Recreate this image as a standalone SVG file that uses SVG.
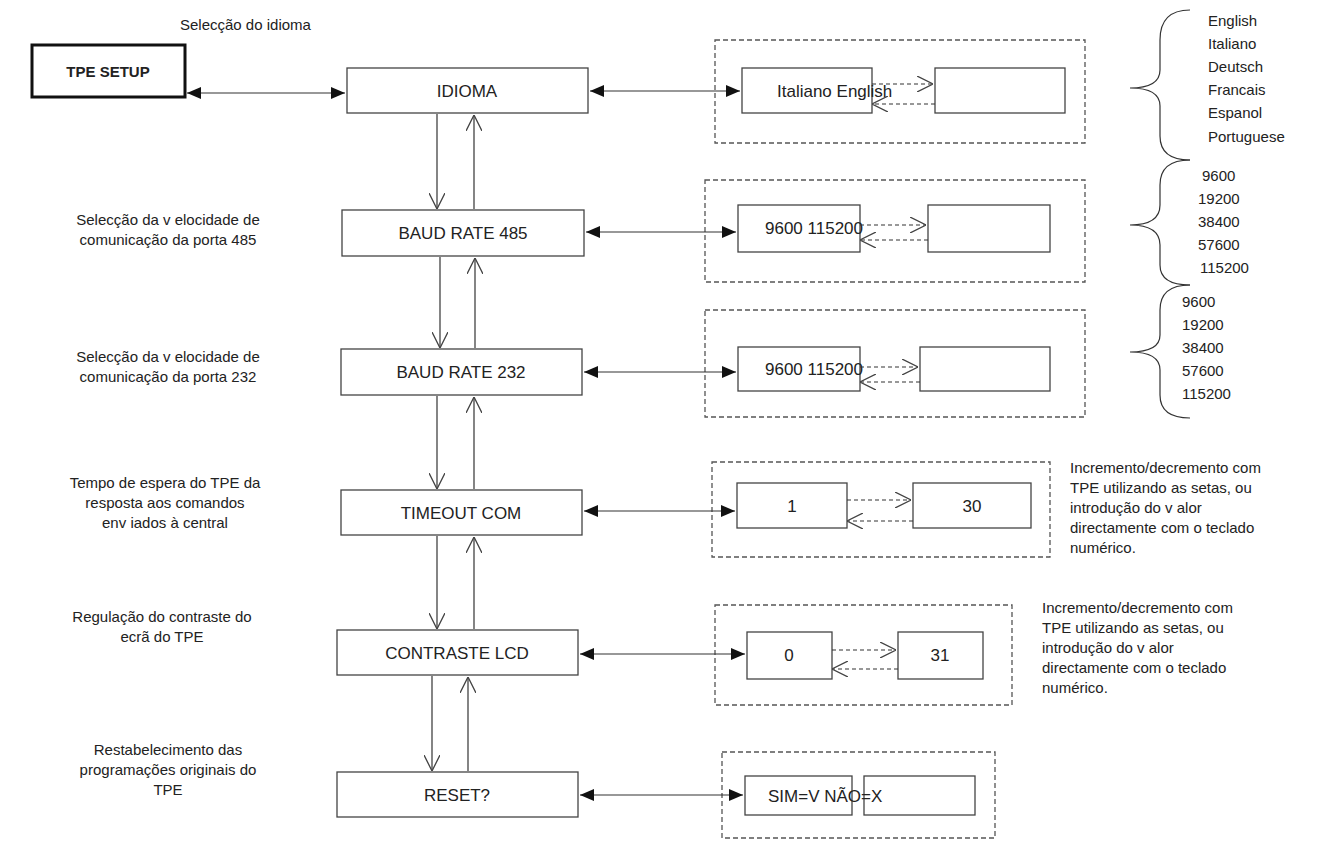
<svg xmlns="http://www.w3.org/2000/svg" width="1318" height="842" viewBox="0 0 1318 842">
<style>
text{font-family:"Liberation Sans",Arial,sans-serif;font-size:15px;fill:#222}
.n{font-size:17px}
.b{fill:#fff;stroke:#444;stroke-width:1.3}
.d{fill:none;stroke:#555;stroke-width:1.3;stroke-dasharray:5,3}
.l{fill:none;stroke:#333;stroke-width:1.2}
.m{text-anchor:middle}
</style>
<defs>
<marker id="f" viewBox="0 0 14 12" refX="14" refY="6" markerWidth="14" markerHeight="12" markerUnits="userSpaceOnUse" orient="auto-start-reverse"><path d="M0,0L14,6L0,12z" fill="#111"/></marker>
<marker id="o" viewBox="0 0 12 12" refX="12" refY="6" markerWidth="16" markerHeight="16" markerUnits="userSpaceOnUse" orient="auto"><path d="M0,0L12,6L0,12" fill="none" stroke="#444" stroke-width="1"/></marker>
</defs>
<rect width="1318" height="842" fill="#fff"/>
<g id="tpe"><rect x="32" y="45" width="153" height="52" fill="#fff" stroke="#111" stroke-width="3"/><text x="108" y="77" class="m" font-weight="bold">TPE SETUP</text></g>
<text x="180" y="30">Selecção do idioma</text>
<g id="idioma"><rect class="b" x="347" y="68" width="241" height="45"/><text class="m n" x="467" y="97">IDIOMA</text></g>
<g id="b485"><rect class="b" x="342" y="210" width="242" height="46"/><text class="m n" x="463" y="239">BAUD RATE 485</text></g>
<g id="b232"><rect class="b" x="341" y="349" width="241" height="46"/><text class="m n" x="461" y="378">BAUD RATE 232</text></g>
<g id="timeout"><rect class="b" x="341" y="490" width="241" height="45"/><text class="m n" x="461" y="519">TIMEOUT COM</text></g>
<g id="contraste"><rect class="b" x="337" y="630" width="241" height="45"/><text class="m n" x="457" y="659">CONTRASTE LCD</text></g>
<g id="reset"><rect class="b" x="337" y="772" width="241" height="45"/><text class="m n" x="457" y="801">RESET?</text></g>
<g id="labels">
<text class="m" x="168" y="225">Selecção da v elocidade de</text><text class="m" x="168" y="245">comunicação da porta 485</text>
<text class="m" x="168" y="362">Selecção da v elocidade de</text><text class="m" x="168" y="382">comunicação da porta 232</text>
<text class="m" x="165" y="488">Tempo de espera do TPE da</text><text class="m" x="165" y="508">resposta aos comandos</text><text class="m" x="165" y="528">env iados à central</text>
<text class="m" x="162" y="622">Regulação do contraste do</text><text class="m" x="162" y="642">ecrã do TPE</text>
<text class="m" x="168" y="755">Restabelecimento das</text><text class="m" x="168" y="775">programações originais do</text><text class="m" x="168" y="795">TPE</text>
</g>
<g id="sub1"><rect class="d" x="715" y="40" width="370" height="103"/><rect class="b" x="742" y="68" width="130" height="45"/><rect class="b" x="935" y="68" width="130" height="45"/><text class="n" x="777" y="97">Italiano English</text></g>
<g id="sub2"><rect class="d" x="705" y="180" width="380" height="102"/><rect class="b" x="738" y="205" width="122" height="47"/><rect class="b" x="928" y="205" width="122" height="47"/><text class="n" x="765" y="234">9600 115200</text></g>
<g id="sub3"><rect class="d" x="705" y="310" width="380" height="107"/><rect class="b" x="738" y="347" width="122" height="44"/><rect class="b" x="920" y="347" width="130" height="44"/><text class="n" x="765" y="375">9600 115200</text></g>
<g id="sub4"><rect class="d" x="712" y="462" width="338" height="95"/><rect class="b" x="737" y="483" width="110" height="45"/><rect class="b" x="913" y="483" width="118" height="45"/><text class="m n" x="792" y="512">1</text><text class="m n" x="972" y="512">30</text></g>
<g id="sub5"><rect class="d" x="715" y="605" width="297" height="100"/><rect class="b" x="747" y="632" width="85" height="47"/><rect class="b" x="898" y="632" width="85" height="47"/><text class="m n" x="789" y="661">0</text><text class="m n" x="940" y="661">31</text></g>
<g id="sub6"><rect class="d" x="722" y="752" width="273" height="86" stroke-width="2"/><rect class="b" x="745" y="776" width="107" height="39"/><rect class="b" x="864" y="776" width="111" height="39"/><text class="n" x="768" y="802">SIM=V NÃO=X</text></g>
<g id="connectors">
<line class="l" x1="187" y1="93" x2="345" y2="93" marker-start="url(#f)" marker-end="url(#f)"/>
<line class="l" x1="590" y1="91" x2="740" y2="91" marker-start="url(#f)" marker-end="url(#f)"/>
<line class="l" x1="586" y1="232" x2="736" y2="232" marker-start="url(#f)" marker-end="url(#f)"/>
<line class="l" x1="584" y1="372" x2="736" y2="372" marker-start="url(#f)" marker-end="url(#f)"/>
<line class="l" x1="584" y1="511" x2="735" y2="511" marker-start="url(#f)" marker-end="url(#f)"/>
<line class="l" x1="580" y1="654" x2="745" y2="654" marker-start="url(#f)" marker-end="url(#f)"/>
<line class="l" x1="580" y1="795" x2="743" y2="795" marker-start="url(#f)" marker-end="url(#f)"/>
<g stroke-dasharray="4,3">
<line class="l" x1="872" y1="84" x2="933" y2="84" marker-end="url(#o)"/><line class="l" x1="935" y1="104" x2="872" y2="104" marker-end="url(#o)"/>
<line class="l" x1="860" y1="225" x2="926" y2="225" marker-end="url(#o)"/><line class="l" x1="928" y1="240" x2="860" y2="240" marker-end="url(#o)"/>
<line class="l" x1="860" y1="367" x2="918" y2="367" marker-end="url(#o)"/><line class="l" x1="920" y1="382" x2="860" y2="382" marker-end="url(#o)"/>
<line class="l" x1="847" y1="500" x2="911" y2="500" marker-end="url(#o)"/><line class="l" x1="913" y1="521" x2="847" y2="521" marker-end="url(#o)"/>
<line class="l" x1="832" y1="650" x2="896" y2="650" marker-end="url(#o)" stroke-width="2"/><line class="l" x1="898" y1="669" x2="832" y2="669" marker-end="url(#o)"/>
</g>
<line class="l" x1="437" y1="114" x2="437" y2="209" marker-end="url(#o)"/><line class="l" x1="474" y1="209" x2="474" y2="115" marker-end="url(#o)"/>
<line class="l" x1="440" y1="257" x2="440" y2="348" marker-end="url(#o)"/><line class="l" x1="475" y1="348" x2="475" y2="258" marker-end="url(#o)"/>
<line class="l" x1="437" y1="396" x2="437" y2="489" marker-end="url(#o)"/><line class="l" x1="474" y1="489" x2="474" y2="397" marker-end="url(#o)"/>
<line class="l" x1="437" y1="536" x2="437" y2="629" marker-end="url(#o)"/><line class="l" x1="474" y1="629" x2="474" y2="537" marker-end="url(#o)"/>
<line class="l" x1="432" y1="676" x2="432" y2="771" marker-end="url(#o)"/><line class="l" x1="468" y1="771" x2="468" y2="677" marker-end="url(#o)"/>
</g>
<g id="braces" fill="none" stroke="#333" stroke-width="1.2">
<path d="M1190,10 Q1160,10 1160,40 L1160,70 Q1160,88 1130,88 Q1160,88 1160,106 L1160,136 Q1160,160 1190,160"/>
<path d="M1190,160 Q1160,160 1160,185 L1160,205 Q1160,225 1130,225 Q1160,225 1160,245 L1160,265 Q1160,285 1190,285"/>
<path d="M1190,285 Q1160,285 1160,310 L1160,335 Q1160,352 1130,352 Q1160,352 1160,370 L1160,395 Q1160,418 1190,418"/>
</g>
<g id="options">
<text x="1208" y="26">English</text><text x="1208" y="49">Italiano</text><text x="1208" y="72">Deutsch</text><text x="1208" y="95">Francais</text><text x="1208" y="118">Espanol</text><text x="1208" y="142">Portuguese</text>
<text x="1202" y="181">9600</text><text x="1198" y="204">19200</text><text x="1198" y="227">38400</text><text x="1198" y="250">57600</text><text x="1200" y="273">115200</text>
<text x="1182" y="307">9600</text><text x="1182" y="330">19200</text><text x="1182" y="353">38400</text><text x="1182" y="376">57600</text><text x="1182" y="399">115200</text>
<text x="1070" y="473" font-size="14">Incremento/decremento com</text><text x="1070" y="493" font-size="14">TPE utilizando as setas, ou</text><text x="1070" y="513" font-size="14">introdução do v alor</text><text x="1070" y="533" font-size="14">directamente com o teclado</text><text x="1070" y="553" font-size="14">numérico.</text>
<text x="1042" y="613" font-size="14">Incremento/decremento com</text><text x="1042" y="633" font-size="14">TPE utilizando as setas, ou</text><text x="1042" y="653" font-size="14">introdução do v alor</text><text x="1042" y="673" font-size="14">directamente com o teclado</text><text x="1042" y="693" font-size="14">numérico.</text>
</g>
</svg>
